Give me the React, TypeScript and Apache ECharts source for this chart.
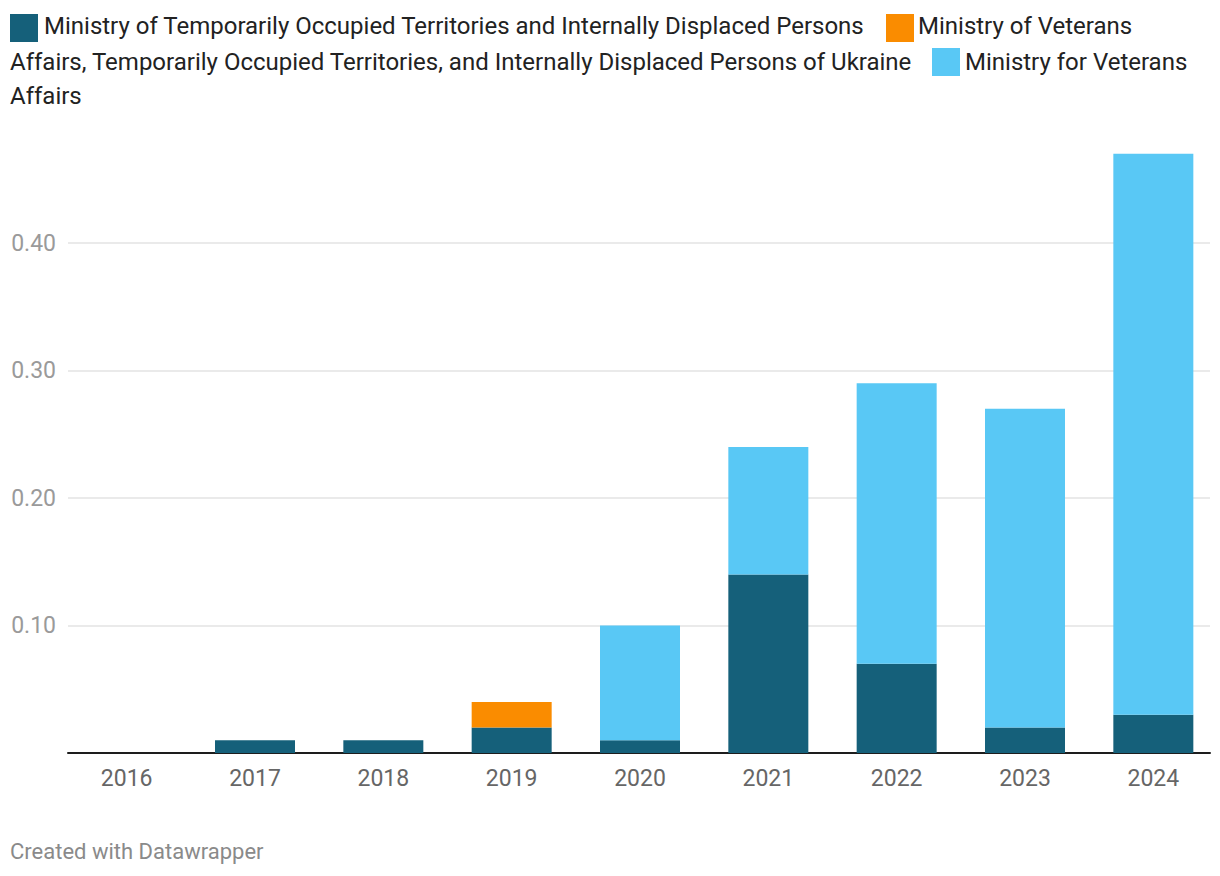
import React, { useEffect, useRef } from "react";
import * as echarts from "echarts";

const years = ["2016", "2017", "2018", "2019", "2020", "2021", "2022", "2023", "2024"];
const seriesNames = [
  "Ministry of Temporarily Occupied Territories and Internally Displaced Persons",
  "Ministry of Veterans Affairs, Temporarily Occupied Territories, and Internally Displaced Persons of Ukraine",
  "Ministry for Veterans Affairs",
];
const totIdp = [0, 0.01, 0.01, 0.02, 0.01, 0.14, 0.07, 0.02, 0.03];
const veteransTotIdp = [null, null, null, 0.02, null, null, null, null, null];
const veterans = [null, null, null, null, 0.09, 0.1, 0.22, 0.25, 0.44];
const colors = ["#15607a", "#fa8c00", "#59c8f5"];
const yTicks = [0, 0.1, 0.2, 0.3, 0.4, 0.5];

const FONT = "Roboto, 'Noto Sans', sans-serif";

export default function App() {
  const ref = useRef<HTMLDivElement>(null);
  useEffect(() => {
    if (!ref.current) return;
    const chart = echarts.init(ref.current, null, { renderer: "svg" });
    const top = 115.5;
    const height = 637.5;
    const legendFont = `24px ${FONT}`;
    chart.setOption({
      animation: false,
      textStyle: { fontFamily: FONT },
      grid: [
        { left: 62.5, right: 2.5, top, height },
        { left: 68, right: 10, top, height },
      ],
      xAxis: [
        {
          type: "category",
          gridIndex: 0,
          data: years,
          axisLine: { show: false },
          axisTick: { show: false },
          axisLabel: { color: "#666", fontSize: 23, margin: 14, fontFamily: FONT },
        },
        {
          type: "value",
          gridIndex: 1,
          min: 0,
          max: 1,
          axisLine: { show: true, onZero: false, lineStyle: { color: "#1d1d1d", width: 2 } },
          axisTick: { show: false },
          axisLabel: { show: false },
          splitLine: { show: false },
        },
      ],
      yAxis: [
        {
          type: "value",
          gridIndex: 0,
          min: 0,
          max: 0.5,
          interval: 0.1,
          show: false,
          splitLine: { show: false },
        },
        {
          type: "value",
          gridIndex: 1,
          min: yTicks[0],
          max: yTicks[yTicks.length - 1],
          interval: 0.1,
          axisLine: { show: false },
          axisTick: { show: false },
          axisLabel: {
            color: "#9a9a9a",
            fontSize: 23,
            margin: 12,
            fontFamily: FONT,
            showMinLabel: false,
            showMaxLabel: false,
            formatter: (v: number) => v.toFixed(2),
          },
          splitLine: {
            show: true,
            showMinLine: false,
            showMaxLine: false,
            lineStyle: { color: "#e3e3e3", width: 1.5 },
          },
        },
      ],
      series: [
        { name: seriesNames[0], type: "bar", stack: "total", data: totIdp, barWidth: 80, itemStyle: { color: colors[0] }, xAxisIndex: 0, yAxisIndex: 0 },
        { name: seriesNames[1], type: "bar", stack: "total", data: veteransTotIdp, barWidth: 80, itemStyle: { color: colors[1] }, xAxisIndex: 0, yAxisIndex: 0 },
        { name: seriesNames[2], type: "bar", stack: "total", data: veterans, barWidth: 80, itemStyle: { color: colors[2] }, xAxisIndex: 0, yAxisIndex: 0 },
      ],
      graphic: [
        { type: "rect", left: 10, top: 14, shape: { width: 28, height: 28 }, style: { fill: colors[0] } },
        { type: "text", left: 44, top: 14, style: { text: "Ministry of Temporarily Occupied Territories and Internally Displaced Persons", font: legendFont, fill: "#222" } },
        { type: "rect", left: 886, top: 14, shape: { width: 28, height: 28 }, style: { fill: colors[1] } },
        { type: "text", left: 918, top: 14, style: { text: "Ministry of Veterans", font: legendFont, fill: "#222" } },
        { type: "text", left: 10, top: 50, style: { text: "Affairs, Temporarily Occupied Territories, and Internally Displaced Persons of Ukraine", font: legendFont, fill: "#222" } },
        { type: "rect", left: 932, top: 48, shape: { width: 28, height: 28 }, style: { fill: colors[2] } },
        { type: "text", left: 965, top: 50, style: { text: "Ministry for Veterans", font: legendFont, fill: "#222" } },
        { type: "text", left: 10, top: 84, style: { text: "Affairs", font: legendFont, fill: "#222" } },
        { type: "text", left: 10, top: 840, style: { text: "Created with Datawrapper", font: `22px ${FONT}`, fill: "#8a8a8a" } },
      ],
    });
    return () => chart.dispose();
  }, []);
  return (
    <div
      ref={ref}
      style={{ position: "absolute", left: 0, top: 0, width: 1220, height: 876, background: "#fff" }}
    />
  );
}
